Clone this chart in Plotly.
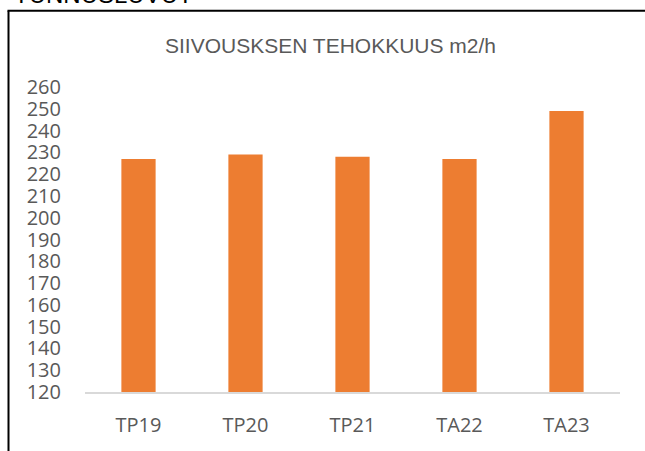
import plotly.graph_objects as go

categories = ["TP19", "TP20", "TP21", "TA22", "TA23"]
values = [227, 229, 228, 227, 249]
y_ticks = list(range(120, 261, 10))

title_text = "SIIVOUSKSEN TEHOKKUUS m2/h"
header_text = "TUNNUSLUVUT"

W, H = 645, 451
L, R, T, B = 85, 620, 86.5, 392.5


def px(x):
    return (x - L) / (R - L)


def py(y):
    return (B - y) / (B - T)


fig = go.Figure(
    go.Bar(
        x=categories,
        y=values,
        marker=dict(color="#ED7D31", line=dict(width=0)),
        hoverinfo="x+y",
    )
)

fig.update_layout(
    width=W,
    height=H,
    margin=dict(l=L, r=W - R, t=T, b=H - B, pad=0),
    paper_bgcolor="white",
    plot_bgcolor="white",
    bargap=0.68,
    showlegend=False,
    font=dict(family="Open Sans", size=20, color="#595959"),
)

fig.update_yaxes(
    range=[120, 260],
    tickvals=y_ticks,
    ticktext=[str(v) for v in y_ticks],
    showgrid=False,
    zeroline=False,
    showline=False,
    ticks="outside",
    ticklen=19,
    tickcolor="rgba(0,0,0,0)",
    tickfont=dict(family="Open Sans", size=20, color="#595959"),
)

fig.update_xaxes(
    showgrid=False,
    showline=True,
    linecolor="#D9D9D9",
    linewidth=1.5,
    ticks="outside",
    ticklen=14,
    tickcolor="rgba(0,0,0,0)",
    tickfont=dict(family="Open Sans", size=20, color="#595959"),
)

# frame lines
fig.add_shape(type="line", xref="paper", yref="paper",
              x0=px(8.5), x1=px(8.5), y0=py(10), y1=py(460),
              line=dict(color="black", width=2))
fig.add_shape(type="line", xref="paper", yref="paper",
              x0=px(7.5), x1=px(660), y0=py(10), y1=py(10),
              line=dict(color="black", width=2))

# title
fig.add_annotation(text=title_text, xref="paper", yref="paper",
                   x=px(330.5), y=py(45), xanchor="center", yanchor="middle",
                   showarrow=False,
                   font=dict(family="Liberation Sans", size=21, color="#595959"))

# partially visible header above frame
fig.add_annotation(text=header_text, xref="paper", yref="paper",
                   x=px(12), y=py(9), xanchor="left", yanchor="bottom",
                   showarrow=False,
                   font=dict(family="Liberation Sans", size=24, color="black"))

fig.write_html(
    "out.html",
    config={"displayModeBar": False},
    post_script="document.body.style.margin='0';document.body.style.overflow='hidden';",
)
